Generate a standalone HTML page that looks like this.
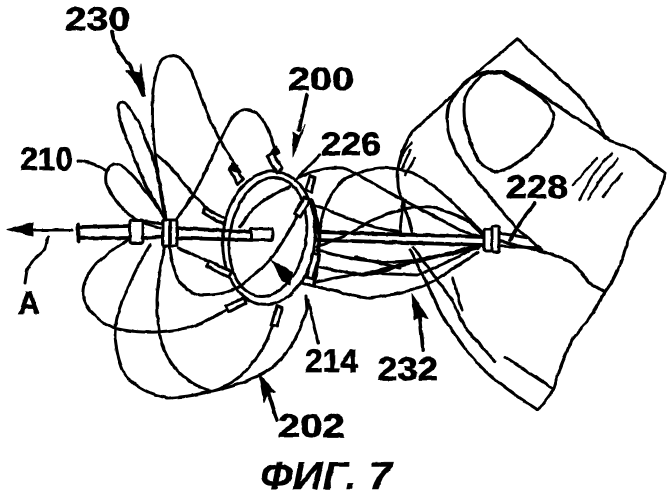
<!DOCTYPE html>
<html>
<head>
<meta charset="utf-8">
<style>
html,body{margin:0;padding:0;background:#fff;width:670px;height:500px;overflow:hidden}
svg{display:block}
path,line,rect,ellipse{fill:none;stroke:#000;stroke-width:3;stroke-linecap:round;stroke-linejoin:round}
.t{font-family:"Liberation Sans","DejaVu Sans",sans-serif;font-weight:bold;font-size:32px;fill:#000;stroke:#000;stroke-width:.7}
.f{fill:#000;stroke:#000;stroke-width:1}
.w{fill:#fff}
.h{stroke-width:3.8}
.n{stroke-width:2.4}
</style>
</head>
<body>
<svg width="670" height="500" viewBox="0 0 670 500" xmlns="http://www.w3.org/2000/svg">
<defs>
<filter id="r" x="0" y="0" width="100%" height="100%" filterUnits="userSpaceOnUse" primitiveUnits="userSpaceOnUse">
<feTurbulence type="fractalNoise" baseFrequency="0.12" numOctaves="2" seed="4"/>
<feDisplacementMap in="SourceGraphic" scale="2.2" xChannelSelector="R" yChannelSelector="G"/>
<feGaussianBlur stdDeviation="0.35"/>
</filter>
</defs>
<g filter="url(#r)">
<!-- tissue -->
<path d="M398 183 Q396 165 405 145 Q412 130 420 125 L478 72 L517 39 L580 97 Q595 115 605 137 L612 142 L635 150 L665 173 Q660 195 655 200 Q645 215 637 223 Q628 238 625 250 Q618 275 605 292 L588 320 L572 340 Q560 365 553 390 L538 410 Q510 392 492 377 Q470 358 452 330 Q440 315 435 300 L410 250"/>
<path d="M542 250 L515 227 L468 170 Q450 145 448 130 Q446 112 450 103 Q458 88 468 80 Q480 72 488 72 Q498 71 505 72 Q520 80 535 90 Q552 102 568 113 L608 138"/>
<path d="M502 73 Q490 72 482 75 Q472 84 465 97 Q463 110 465 123 Q470 145 478 160 Q488 172 498 172 Q510 168 522 160 Q538 147 548 133 Q555 122 553 113 Q550 105 542 98 Q532 90 522 85 Q510 76 502 73"/>
<path d="M398 183 Q398 192 403 200 L412 232"/>
<path d="M403 200 L400 232"/>
<path d="M500 241 L548 253 Q562 257 572 263 Q582 272 588 282 L605 292"/>
<path d="M413 247 L435 277 Q445 290 452 300 Q458 315 467 330 L495 362"/>
<path d="M453 278 L462 310"/>
<path d="M505 357 L552 388"/>
<path class="n" d="M412 143 Q403 150 400 163"/>
<path class="n" d="M415 158 L405 175"/>
<path class="n" d="M410 150 L402 170"/>
<path class="n" d="M597 158 L573 185"/>
<path class="n" d="M612 153 Q590 175 580 200"/>
<path class="n" d="M618 159 Q598 180 588 200"/>
<path class="n" d="M622 173 L603 197"/>
<!-- right cage -->
<path d="M313 205 Q325 208 340 215 Q370 228 400 232"/>
<path d="M320 233 Q320 218 327 203 Q333 190 343 180 Q360 170 380 168 Q397 167 413 173 Q435 185 453 203 Q470 220 483 233"/>
<path d="M300 177 Q310 172 320 170 Q332 167 343 168 Q355 172 367 180 Q385 190 403 200 Q432 215 460 230 L482 238"/>
<path d="M317 247 Q334 240 350 233 Q358 228 367 223 Q383 215 400 210 Q416 206 433 207 Q450 212 467 220 L483 235"/>
<path d="M317 250 Q334 255 350 258 Q367 261 383 262 Q400 262 417 260 Q434 257 450 253 L480 245"/>
<path d="M320 267 Q345 273 367 275 Q384 272 400 265 Q435 257 478 248"/>
<path d="M317 282 Q342 276 367 273 Q392 274 417 275 Q450 262 480 245"/>
<path d="M303 283 Q318 288 333 290 Q350 296 367 298 Q390 296 412 290 Q425 286 435 280 Q455 268 478 252"/>
<path d="M355 257 L400 268"/>
<path class="h" d="M368 273 L480 246"/>
<!-- shaft right -->
<path class="h" d="M317 232 L483 237"/>
<path class="h" d="M317 240 L483 245"/>
<!-- hub 3 -->
<rect x="484" y="229" width="8" height="22" rx="2"/>
<rect x="492" y="226" width="7" height="26" rx="2"/>
<path d="M499 233 L528 238"/>
<path d="M499 246 L540 248"/>
<!-- top petals -->
<path d="M165 220 Q160 190 156.5 165 Q153 140 152.5 120 Q152 100 154.5 82 Q157 65 163 59 Q170 53 178 57 Q187 62 192 73 Q197 85 201 97 Q205 110 215 130 Q225 150 240 172"/>
<path d="M165 218 Q150 195 142 177 Q135 160 126 137 Q118 115 118 108 Q118 102 122 102 Q127 102 140 125 Q155 160 160 185 Q165 210 166 220"/>
<path d="M157 155 Q170 165 185 185 Q195 197 208 209"/>
<path d="M176 220 Q195 195 205 172 Q220 140 232 118 Q240 108 250 110 Q262 113 270 135 L275 150"/>
<path d="M165 218 Q150 195 135 178 Q122 163 114 164 Q104 168 106 183 Q112 200 130 215 L140 222 L160 228"/>
<!-- bottom petals -->
<path d="M128 240 Q110 250 95 265 Q82 280 83 295 Q87 315 113 328 Q135 333 157 332 Q180 331 200 324 L227 310"/>
<path d="M150 245 Q135 270 127 290 Q115 315 115 335 Q117 363 127 377 Q140 392 167 398 Q190 397 207 392 Q235 387 253 378 Q270 372 283 357 Q298 338 307 310 L306 296"/>
<path d="M165 245 Q158 275 157 300 Q157 325 162 345 Q170 365 183 376 Q197 388 212 391 Q230 386 245 372 Q260 355 267 340 L274 322"/>
<path d="M170 248 Q172 265 177 277 Q185 292 200 295 Q218 296 233 290 L242 285 Q258 272 270 260 Q285 240 298 215"/>
<path d="M178 248 L210 262"/>
<!-- ring -->
<ellipse cx="268" cy="237" rx="38" ry="60" transform="rotate(10 268 237)"/>
<ellipse cx="269" cy="238" rx="46" ry="67" transform="rotate(6 269 238)"/>
<path d="M240 227 Q248 213 260 203 Q275 193 290 187"/>
<path d="M311 200 Q322 225 318 260 L314 285" class="h"/>
<!-- posts -->
<path class="w" d="M272 152 L282 168 L277 173 L267 156 Z"/>
<path class="w" d="M232 165 L243 179 L238 184 L229 169 Z"/>
<path class="w" d="M205 208 L226 219 L223 224 L203 213 Z"/>
<path class="w" d="M209 261 L232 272 L228 277 L207 266 Z"/>
<path class="w" d="M226 306 L244 298 L246 303 L229 312 Z"/>
<path class="w" d="M271 325 L277 306 L282 308 L277 326 Z"/>
<path class="w" d="M295 214 L304 197 L310 200 L300 217 Z"/>
<path class="w" d="M307 277 L313 253 L319 255 L313 279 Z"/>
<path class="w" d="M306 190 L310 176 L315 178 L312 192 Z"/>
<path class="f" d="M272 150 L276 146 L280 153 L275 156 Z"/>
<path class="f" d="M231 163 L238 165 L236 172 L231 170 Z"/>
<!-- left shaft -->
<path class="h" d="M80 227 L130 226"/>
<path class="h" d="M80 238 L130 238"/>
<path class="h" d="M78 224 L78 241"/>
<rect class="w" x="130" y="220" width="13" height="23" rx="2"/>
<path d="M143 221 L163 224"/>
<path class="h" d="M143 238 L163 237"/>
<rect class="w" x="163" y="220" width="14" height="26" rx="2"/>
<path class="h" d="M177 228 L252 232"/>
<path class="h" d="M177 238 L252 240"/>
<path class="w" d="M251 229 L272 229 Q274 234 272 240 L251 240 Z"/>
<line class="h" x1="170" y1="222" x2="170" y2="244"/>
<!-- arrows -->
<path d="M72 230 L25 230"/>
<path class="f" d="M7 229 L33 223 L33 236 Z"/>
<path d="M48 237 L45 250 Q30 262 27 270 L25 283"/>
<path class="h" d="M112 32 Q115 50 130 65 L143 95"/>
<path class="f" d="M145 96 L126 70 L140 73 L141 64 Z"/>
<path class="h" d="M307 95 L299 130"/>
<path class="f" d="M293 157 L293 132 L299 136 L305 125 Z"/>
<path d="M320 155 L295 180"/>
<path d="M510 240 L522 220 L535 203" class="h"/>
<path d="M78 161 Q90 161 105 170"/>
<path d="M318 343 L308 300"/>
<path class="h" d="M423 350 L420 318"/>
<path class="f" d="M412 294 L428 318 L420 316 L414 320 Z"/>
<path class="h" d="M277 420 L266 385"/>
<path class="f" d="M259 374 L275 392 L268 392 L264 403 Z"/>
<path class="f" d="M272 260 L292 272 L290 285 L282 280 Z"/>
<!-- labels -->
<text class="t" x="65" y="30" textLength="65" lengthAdjust="spacingAndGlyphs">230</text>
<text class="t" x="288" y="90" textLength="66" lengthAdjust="spacingAndGlyphs">200</text>
<text class="t" x="321" y="155" textLength="60" lengthAdjust="spacingAndGlyphs">226</text>
<text class="t" x="20" y="170" textLength="53" lengthAdjust="spacingAndGlyphs">210</text>
<text class="t" x="506" y="198" textLength="62" lengthAdjust="spacingAndGlyphs">228</text>
<text class="t" x="18" y="314" textLength="22" lengthAdjust="spacingAndGlyphs">A</text>
<text class="t" x="305" y="372" textLength="53" lengthAdjust="spacingAndGlyphs">214</text>
<text class="t" x="377" y="380" textLength="61" lengthAdjust="spacingAndGlyphs">232</text>
<text class="t" x="278" y="437" textLength="67" lengthAdjust="spacingAndGlyphs">202</text>
<text class="t" x="260" y="489" textLength="132" lengthAdjust="spacingAndGlyphs" style="font-size:39px;font-style:italic;stroke-width:.4">ФИГ. 7</text>
</g>
</svg>
</body>
</html>
